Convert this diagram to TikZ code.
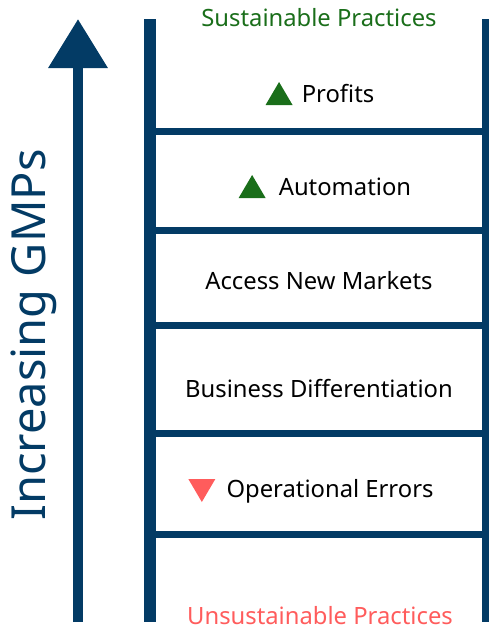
\documentclass[tikz,border=0pt]{standalone}
\usepackage{fontspec}
\setmainfont{Noto Sans}
\usetikzlibrary{arrows.meta,positioning}
\definecolor{navy}{HTML}{033B65}
\definecolor{upgreen}{HTML}{1A6E1A}
\definecolor{downred}{HTML}{FF5C5C}
\begin{document}
\begin{tikzpicture}[x=1pt,y=-1pt,line join=miter,
	rail/.style={draw=navy,line width=12pt},
	rung/.style={draw=navy,line width=7pt},
	item/.style={inner sep=0pt,font=\fontsize{23.8}{28}\selectfont},
	upmark/.style={fill=upgreen},
	downmark/.style={fill=downred}]
	\def\xl{150} \def\xr{488}
	\def\ytop{19} \def\ybot{622}
	\useasboundingbox (0,0) rectangle (488,630);
	% ladder
	\draw[rail] (\xl,\ytop)--(\xl,\ybot);
	\draw[rail] (\xr,\ytop)--(\xr,\ybot);
	\foreach \y in {131,230,325,433,534}
		\draw[rung] (\xl,\y)--(\xr,\y);
	% big arrow on the left
	\coordinate (foot) at (78,\ybot);
	\coordinate (tip) at (78,\ytop);
	\draw[navy,line width=10pt,-{Triangle[width=57pt,length=49pt]}] (foot)--(tip);
	\node[rotate=90,text=navy,inner sep=0pt,font=\fontsize{47}{53}\selectfont] (gmp) at (34,335) {Increasing GMPs};
	% ends
	\node[item,text=upgreen] (good) at (319,18) {Sustainable Practices};
	\node[item,text=downred] (bad) at (320,616) {Unsustainable Practices};
	% rungs text
	\node[item] (prof) at (338,94) {Profits};
	\node[item] (auto) at (345,187) {Automation};
	\node[item] (mkt) at (319,281) {Access New Markets};
	\node[item] (diff) at (319,389) {Business Differentiation};
	\node[item] (err) at (330,491) {Operational Errors};
	\fill[upmark] ([xshift=-36pt,yshift=-11pt]prof.west) -- ++(27,0) -- ++(-13.5,-23) -- cycle;
	\fill[upmark] ([xshift=-40pt,yshift=-11pt]auto.west) -- ++(27,0) -- ++(-13.5,-23) -- cycle;
	\fill[downmark] ([xshift=-38pt,yshift=12pt]err.west) -- ++(27,0) -- ++(-13.5,23) -- cycle;
\end{tikzpicture}
\end{document}
